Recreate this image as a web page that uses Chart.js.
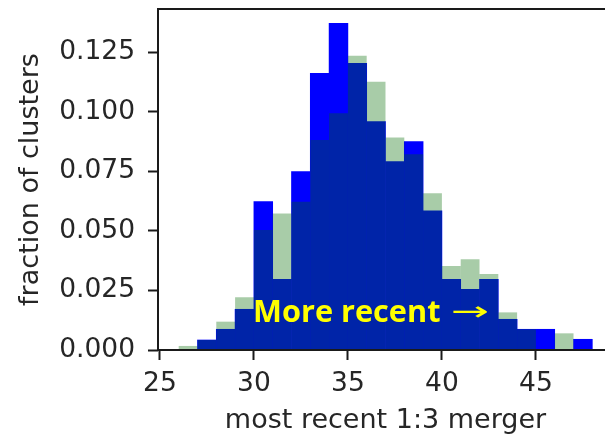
<!DOCTYPE html>
<html>
<head>
<meta charset="utf-8">
<script src="https://cdn.jsdelivr.net/npm/chart.js@4"></script>
<style>
html,body{margin:0;padding:0;overflow:hidden;background:#fff;}
#caja{width:620px;height:434px;}
</style>
</head>
<body>
<div id="caja"><canvas id="histograma" width="620" height="434"></canvas></div>
<script>
//DATOS DEL HISTOGRAMA (bins de ancho 1, borde izquierdo)
const binInicio=[26,27,28,29,30,31,32,33,34,35,36,37,38,39,40,41,42,43,44,45,46,47];
const fraccionAzul=[0,0.0042,0.0087,0.0171,0.0623,0.0297,0.0749,0.1162,0.1372,0.1204,0.0959,0.0791,0.0875,0.0584,0.0297,0.0255,0.0297,0.0129,0.0087,0.0087,0,0.0045];
const fraccionVerde=[0.0017,0.0042,0.0119,0.0221,0.0504,0.0573,0.0623,0.0882,0.0994,0.1236,0.1127,0.0892,0.0822,0.0658,0.0353,0.0381,0.0319,0.0158,0.0087,0,0.0070,0];
const ticksX=[25,30,35,40,45];
const ticksY=[0,0.025,0.05,0.075,0.1,0.125];
const rotulo='More recent';
const flecha='\u2192';

const colorTexto='#262626';
const fuenteTicks={family:'DejaVu Sans',size:26.5};
const fuenteTitulo={family:'DejaVu Sans',size:27,lineHeight:1};

function puntos(valores){
    return binInicio.map((b,i)=>({x:b+0.5,y:valores[i]}));
}

//MARCO DE LOS EJES
const marco={
    id:'marco',
    afterDatasetsDraw(chart){
        const {ctx,chartArea:a}=chart;
        ctx.save();
        ctx.strokeStyle='#1a1a1a';
        ctx.lineWidth=2;
        ctx.strokeRect(a.left,a.top,a.right-a.left,a.bottom-a.top);
        ctx.restore();
    }
};

//TEXTO AMARILLO SOBRE LAS BARRAS (ajustado a un ancho dado)
function textoAjustado(ctx,texto,fuente,x,y,ancho){
    ctx.font=fuente;
    const m=ctx.measureText(texto);
    const tinta=m.actualBoundingBoxLeft+m.actualBoundingBoxRight;
    const esc=ancho/tinta;
    ctx.save();
    ctx.translate(x,y);
    ctx.scale(esc,1);
    ctx.fillText(texto,m.actualBoundingBoxLeft,0);
    ctx.restore();
}

const anotacion={
    id:'anotacion',
    afterDraw(chart){
        const ctx=chart.ctx;
        ctx.save();
        ctx.fillStyle='#ffff00';
        ctx.textBaseline='alphabetic';
        textoAjustado(ctx,rotulo,'bold 31px "Open Sans"',255,322,185);
        ctx.textBaseline='middle';
        textoAjustado(ctx,flecha,'26px "DejaVu Sans"',453,313,35);
        ctx.restore();
    }
};

const lienzo=document.querySelector('#histograma');
const grafico=new Chart(lienzo,{
    type:'bar',
    data:{
        datasets:[
            {
                label:'azul',
                data:puntos(fraccionAzul),
                backgroundColor:'#0000ff',
                borderWidth:0,
                barPercentage:1,
                categoryPercentage:1,
                grouped:false,
                order:2
            },
            {
                label:'verde',
                data:puntos(fraccionVerde),
                backgroundColor:'rgba(0,105,0,0.34)',
                borderWidth:0,
                barPercentage:1,
                categoryPercentage:1,
                grouped:false,
                inflateAmount:0,
                order:1
            }
        ]
    },
    options:{
        responsive:false,
        animation:false,
        layout:{padding:{left:0,top:9,right:7,bottom:0}},
        plugins:{legend:{display:false},tooltip:{enabled:false}},
        scales:{
            x:{
                type:'linear',
                min:24.9,
                max:49.1,
                offset:false,
                afterBuildTicks:s=>{s.ticks=ticksX.map(v=>({value:v}));},
                afterFit:s=>{s.height=84;s.paddingLeft=0;s.paddingRight=0;},
                grid:{offset:false,drawOnChartArea:false,drawTicks:true,tickLength:10,tickWidth:2,tickColor:'#1a1a1a'},
                border:{display:false},
                ticks:{font:fuenteTicks,color:colorTexto,padding:8,maxRotation:0,callback:v=>String(v)},
                title:{display:true,text:'most recent 1:3 merger',font:fuenteTitulo,color:colorTexto,padding:{top:0,bottom:0}}
            },
            y:{
                min:0,
                max:0.1432,
                afterBuildTicks:s=>{s.ticks=ticksY.map(v=>({value:v}));},
                afterFit:s=>{s.width=158;s.paddingTop=0;s.paddingBottom=0;},
                grid:{drawOnChartArea:false,drawTicks:true,tickLength:10,tickWidth:2,tickColor:'#1a1a1a'},
                border:{display:false},
                ticks:{font:fuenteTicks,color:colorTexto,padding:13,callback:v=>v.toFixed(3)},
                title:{display:true,text:'fraction of clusters',font:fuenteTitulo,color:colorTexto,padding:{top:17,bottom:0}}
            }
        }
    },
    plugins:[marco,anotacion]
});
</script>
</body>
</html>
